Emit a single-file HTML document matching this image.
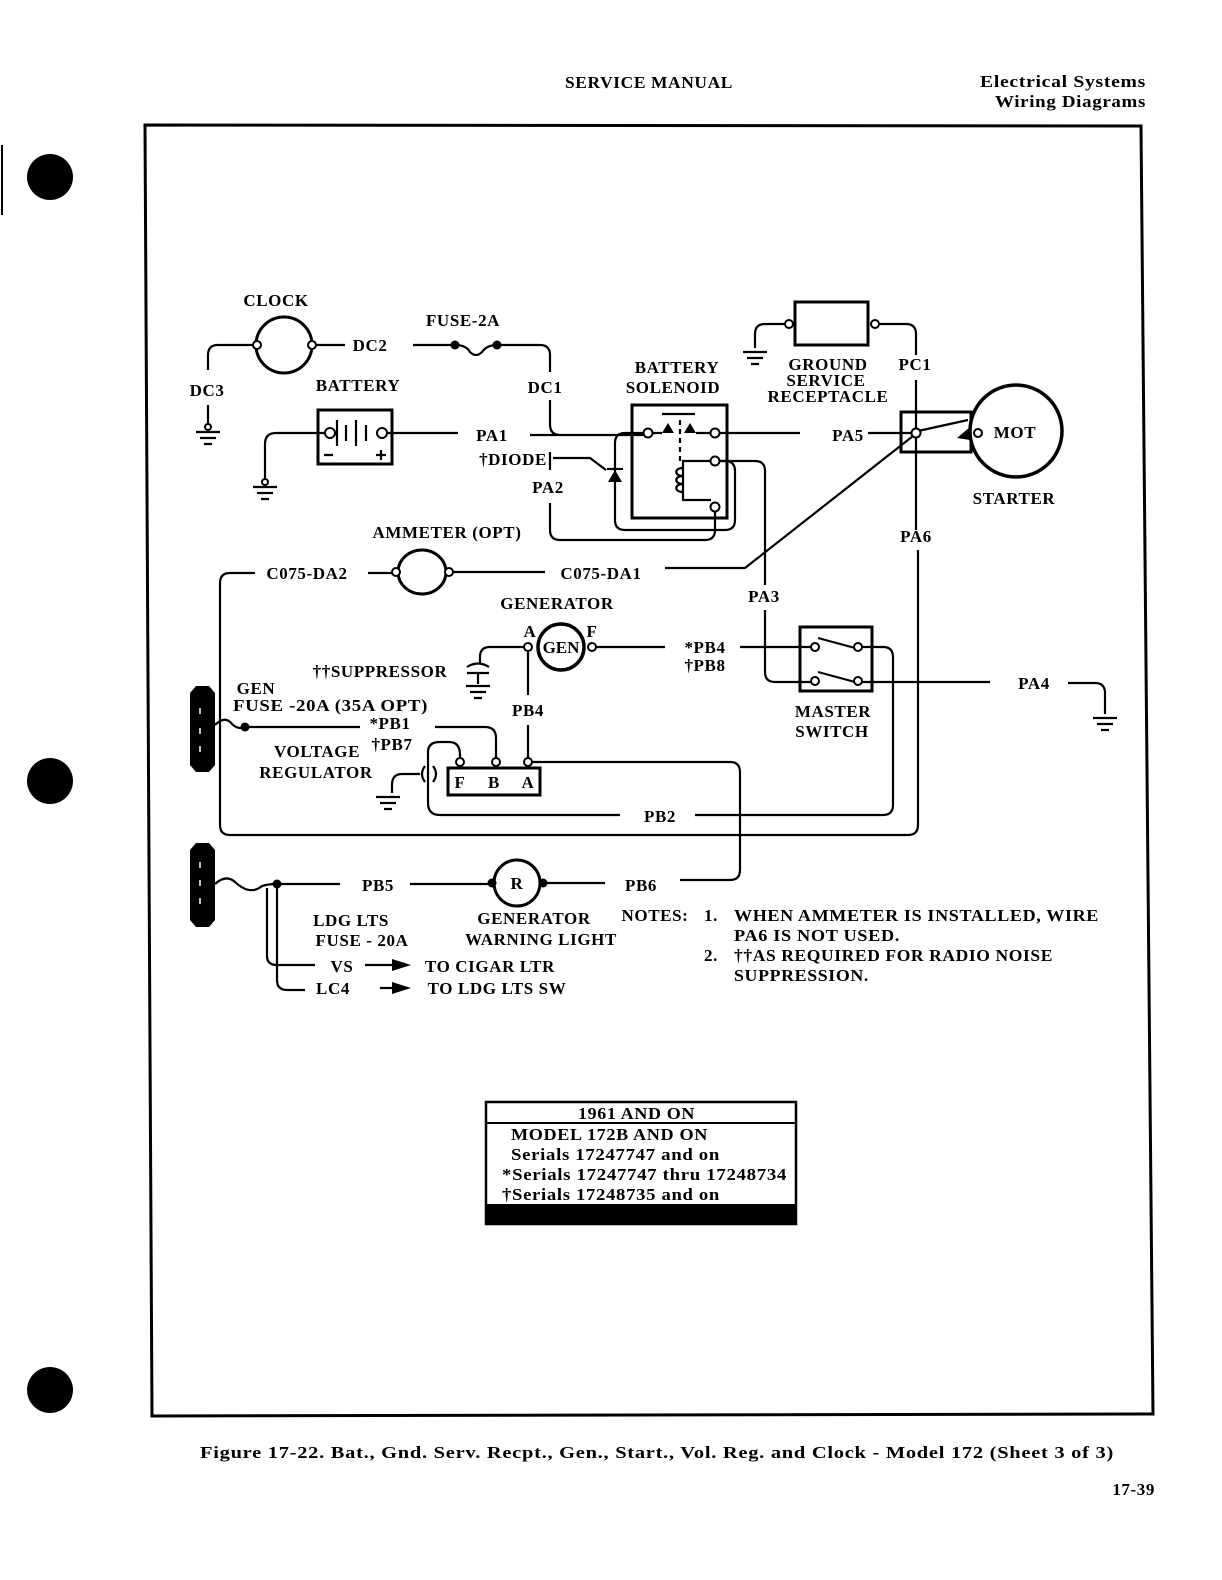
<!DOCTYPE html>
<html><head><meta charset="utf-8"><style>
html,body{margin:0;padding:0;background:#fff}
svg{display:block}
text{font-family:"Liberation Serif",serif;font-weight:bold;font-size:17px;fill:#000;letter-spacing:0.6px}
.w{fill:none;stroke:#000;stroke-width:2.2}
.t{fill:#fff;stroke:#000;stroke-width:2}
</style></head><body>
<svg width="1222" height="1580" viewBox="0 0 1222 1580" xmlns="http://www.w3.org/2000/svg">
<defs>
<g id="gnd"><path class="w" d="M-12,0H12M-8,6H8M-4,12H4"/></g>
</defs>
<!-- header -->
<text x="565" y="88" textLength="168" lengthAdjust="spacingAndGlyphs">SERVICE MANUAL</text>
<text x="980" y="87" textLength="166" lengthAdjust="spacingAndGlyphs">Electrical Systems</text>
<text x="995" y="107" textLength="151" lengthAdjust="spacingAndGlyphs">Wiring Diagrams</text>
<!-- margin dots -->
<circle cx="50" cy="177" r="23"/><circle cx="50" cy="781" r="23"/><circle cx="50" cy="1390" r="23"/>
<line x1="2" y1="145" x2="2" y2="215" stroke="#000" stroke-width="2"/>
<!-- frame -->
<polygon points="145,125 1141,126 1153,1414 152,1416" fill="none" stroke="#000" stroke-width="3"/>

<!-- clock -->
<text x="276" y="306" text-anchor="middle">CLOCK</text>
<ellipse cx="284" cy="345" rx="28" ry="28" fill="none" stroke="#000" stroke-width="3"/>
<path class="w" d="M253,345H218Q208,345 208,355V370M316,345H345"/>
<circle class="t" cx="257" cy="345" r="4"/><circle class="t" cx="312" cy="345" r="4"/>
<text x="207" y="396" text-anchor="middle">DC3</text>
<path class="w" d="M208,405V428"/><circle class="t" cx="208" cy="427" r="3"/><use href="#gnd" x="208" y="432"/>
<text x="370" y="351" text-anchor="middle">DC2</text>
<path class="w" d="M413,345H455Q466,345 470,352Q476,358 482,352Q487,345 497,345H540Q550,345 550,355V372"/>
<circle cx="455" cy="345" r="4.5"/><circle cx="497" cy="345" r="4.5"/>
<text x="463" y="326" text-anchor="middle">FUSE-2A</text>
<text x="545" y="393" text-anchor="middle">DC1</text>

<!-- battery -->
<text x="358" y="391" text-anchor="middle">BATTERY</text>
<rect x="318" y="410" width="74" height="54" fill="none" stroke="#000" stroke-width="3"/>
<path class="w" d="M337,420V446M346,425V441M356,420V446M366,425V441"/>
<circle class="t" cx="330" cy="433" r="5"/><circle class="t" cx="382" cy="433" r="5"/>
<path class="w" d="M324,455H333M376,455H386M381,450V460"/>
<path class="w" d="M325,433H276Q265,433 265,444V482"/><circle class="t" cx="265" cy="482" r="3"/><use href="#gnd" x="265" y="487"/>
<path class="w" d="M387,433H458"/>
<text x="492" y="441" text-anchor="middle">PA1</text>
<path class="w" d="M530,435H643M550,400V424Q550,435 560,435"/>
<text x="513" y="465" text-anchor="middle">†DIODE</text>
<path class="w" d="M553,458H590L606,470"/>
<text x="548" y="493" text-anchor="middle">PA2</text>
<path class="w" d="M550,452V470M550,503V530Q550,540 560,540H705Q715,540 715,530V512"/>

<!-- solenoid -->
<text x="677" y="373" text-anchor="middle">BATTERY</text>
<text x="673" y="393" text-anchor="middle">SOLENOID</text>
<rect x="632" y="405" width="95" height="113" fill="none" stroke="#000" stroke-width="3"/>
<path class="w" d="M662,414H695" stroke-width="3"/>
<path class="w" d="M680,420V462" stroke-dasharray="5,4"/>
<path d="M662,433L668,423L674,433Z M684,433L690,423L696,433Z"/>
<path class="w" d="M653,433H662M696,433H710"/>
<circle class="t" cx="648" cy="433" r="4.5"/><circle class="t" cx="715" cy="433" r="4.5"/>
<circle class="t" cx="715" cy="461" r="4.5"/><circle class="t" cx="715" cy="507" r="4.5"/>
<path class="w" d="M711,461H683V500H711"/>
<path class="w" d="M683,468c-9,0 -9,8 0,8c-9,0 -9,8 0,8c-9,0 -9,8 0,8" stroke-width="3"/>
<path class="w" d="M643,433H625Q615,433 615,443V520Q615,530 625,530H725Q735,530 735,520V471Q735,461 725,461H719"/>
<path d="M608,482H622L615,470Z"/><path class="w" d="M607,469H623"/>
<path class="w" d="M719,433H800"/>
<path class="w" d="M719,461H755Q765,461 765,471V585"/>
<text x="764" y="602" text-anchor="middle">PA3</text>
<path class="w" d="M765,610V672Q765,682 775,682H811"/>

<!-- ground service receptacle -->
<rect x="795" y="302" width="73" height="43" fill="none" stroke="#000" stroke-width="3"/>
<circle class="t" cx="789" cy="324" r="4"/><circle class="t" cx="875" cy="324" r="4"/>
<path class="w" d="M785,324H765Q755,324 755,334V348"/><use href="#gnd" x="755" y="352"/>
<path class="w" d="M879,324H906Q916,324 916,334V355"/>
<text x="828" y="370" text-anchor="middle">GROUND</text>
<text x="826" y="386" text-anchor="middle">SERVICE</text>
<text x="828" y="402" text-anchor="middle">RECEPTACLE</text>
<text x="915" y="370" text-anchor="middle">PC1</text>
<text x="848" y="441" text-anchor="middle">PA5</text>
<path class="w" d="M868,433H912M916,380V530"/>
<!-- starter -->
<rect x="901" y="412" width="70" height="40" fill="none" stroke="#000" stroke-width="3"/>
<circle cx="1016" cy="431" r="46" fill="#fff" stroke="#000" stroke-width="3.5"/>
<path class="w" d="M918,431L968,420"/>
<path d="M957,438L970,427L970,440Z"/>
<circle class="t" cx="916" cy="433" r="4.5"/><circle class="t" cx="978" cy="433" r="4"/>
<text x="1015" y="438" text-anchor="middle">MOT</text>
<text x="1014" y="504" text-anchor="middle">STARTER</text>
<text x="916" y="542" text-anchor="middle">PA6</text>
<path class="w" d="M913,436L745,568H665"/>
<path class="w" d="M918,550V825Q918,835 908,835H230Q220,835 220,825V583Q220,573 230,573H255"/>

<!-- ammeter -->
<text x="447" y="538" text-anchor="middle">AMMETER (OPT)</text>
<text x="307" y="579" text-anchor="middle">C075-DA2</text>
<text x="601" y="579" text-anchor="middle">C075-DA1</text>
<path class="w" d="M368,573H392M453,572H545"/>
<ellipse cx="422" cy="572" rx="24" ry="22" fill="none" stroke="#000" stroke-width="3"/>
<circle class="t" cx="396" cy="572" r="4"/><circle class="t" cx="449" cy="572" r="4"/>

<!-- generator -->
<text x="557" y="609" text-anchor="middle">GENERATOR</text>
<circle cx="561" cy="647" r="23" fill="none" stroke="#000" stroke-width="3.5"/>
<text x="561" y="653" text-anchor="middle" style="letter-spacing:0">GEN</text>
<text x="530" y="637" text-anchor="middle" font-size="15">A</text>
<text x="592" y="637" text-anchor="middle" font-size="15">F</text>
<path class="w" d="M596,647H665M740,647H811M524,647H490Q480,647 480,657V664M528,651V695M528,725V758"/>
<circle class="t" cx="528" cy="647" r="4"/><circle class="t" cx="592" cy="647" r="4"/>
<path class="w" d="M467,667Q478,660 489,667M467,673H489M478,673V684"/><use href="#gnd" x="478" y="686"/>
<text x="380" y="677" text-anchor="middle">††SUPPRESSOR</text>
<text x="705" y="653" text-anchor="middle">*PB4</text>
<text x="705" y="671" text-anchor="middle">†PB8</text>
<text x="528" y="716" text-anchor="middle">PB4</text>

<!-- master switch -->
<rect x="800" y="627" width="72" height="64" fill="none" stroke="#000" stroke-width="3"/>
<path class="w" d="M818,638L855,648M818,672L855,682"/>
<circle class="t" cx="815" cy="647" r="4"/><circle class="t" cx="858" cy="647" r="4"/>
<circle class="t" cx="815" cy="681" r="4"/><circle class="t" cx="858" cy="681" r="4"/>
<text x="833" y="717" text-anchor="middle">MASTER</text>
<text x="832" y="737" text-anchor="middle">SWITCH</text>
<path class="w" d="M862,647H883Q893,647 893,657V805Q893,815 883,815H695"/>
<path class="w" d="M862,682H990M1068,683H1095Q1105,683 1105,693V714"/>
<use href="#gnd" x="1105" y="718"/>
<text x="1034" y="689" text-anchor="middle">PA4</text>
<text x="660" y="822" text-anchor="middle">PB2</text>

<!-- voltage regulator -->
<rect x="448" y="768" width="92" height="27" fill="none" stroke="#000" stroke-width="3"/>
<text x="460" y="788" text-anchor="middle">F</text>
<text x="494" y="788" text-anchor="middle">B</text>
<text x="528" y="788" text-anchor="middle">A</text>
<path class="w" d="M620,815H440Q428,815 428,803V752Q428,742 440,742H449Q460,742 460,755V760"/>
<path class="w" d="M435,727H485Q496,727 496,738V758"/>
<path class="w" d="M532,762H730Q740,762 740,772V870Q740,880 730,880H680"/>
<circle class="t" cx="460" cy="762" r="4"/><circle class="t" cx="496" cy="762" r="4"/><circle class="t" cx="528" cy="762" r="4"/>
<path class="w" d="M425,766Q419,774 425,782M433,766Q439,774 433,782"/>
<path class="w" d="M420,774H402Q392,774 392,785V793"/><use href="#gnd" x="388" y="797"/>
<text x="390" y="729" text-anchor="middle">*PB1</text>
<text x="392" y="750" text-anchor="middle">†PB7</text>
<text x="317" y="757" text-anchor="middle">VOLTAGE</text>
<text x="316" y="778" text-anchor="middle">REGULATOR</text>
<text x="256" y="694" text-anchor="middle">GEN</text>
<text x="233" y="711" textLength="195" lengthAdjust="spacingAndGlyphs">FUSE -20A (35A OPT)</text>

<!-- bus bars -->
<path d="M190,693L196,686L209,686L215,693V765L209,772L196,772L190,765Z"/>
<path d="M190,850L196,843L209,843L215,850V920L209,927L196,927L190,920Z"/>
<g stroke="#fff" stroke-width="1.5"><path d="M200,708V714M200,728V734M200,746V752M200,862V868M200,880V886M200,898V904"/></g>
<path class="w" d="M215,725Q225,715 232,724Q238,730 245,727H360"/><circle cx="245" cy="727" r="4.5"/>

<!-- bottom -->
<path class="w" d="M215,884Q226,874 235,882Q250,896 262,886Q268,884 277,884H340M410,884H490M545,883H605"/>
<circle cx="277" cy="884" r="4.5"/>
<text x="378" y="891" text-anchor="middle">PB5</text>
<text x="641" y="891" text-anchor="middle">PB6</text>
<circle cx="517" cy="883" r="23" fill="none" stroke="#000" stroke-width="3"/>
<text x="517" y="889" text-anchor="middle">R</text>
<circle cx="492" cy="883" r="4.5"/><circle cx="543" cy="883" r="4.5"/>
<path class="w" d="M277,888V980Q277,990 287,990H305M267,888V956Q267,965 277,965H315"/>
<text x="351" y="926" text-anchor="middle">LDG LTS</text>
<text x="362" y="946" text-anchor="middle">FUSE - 20A</text>
<text x="342" y="972" text-anchor="middle">VS</text>
<text x="333" y="994" text-anchor="middle">LC4</text>
<path class="w" d="M365,965H395M380,988H395"/><path d="M392,959L411,965L392,971Z M392,982L411,988L392,994Z"/>
<text x="490" y="972" text-anchor="middle">TO CIGAR LTR</text>
<text x="497" y="994" text-anchor="middle">TO LDG LTS SW</text>
<text x="534" y="924" text-anchor="middle">GENERATOR</text>
<text x="541" y="945" text-anchor="middle">WARNING LIGHT</text>
<text x="655" y="921" text-anchor="middle">NOTES:</text>
<text x="711" y="921" text-anchor="middle">1.</text>
<text x="734" y="921" textLength="365" lengthAdjust="spacingAndGlyphs">WHEN AMMETER IS INSTALLED, WIRE</text>
<text x="734" y="941" textLength="166" lengthAdjust="spacingAndGlyphs">PA6 IS NOT USED.</text>
<text x="711" y="961" text-anchor="middle">2.</text>
<text x="734" y="961" textLength="319" lengthAdjust="spacingAndGlyphs">††AS REQUIRED FOR RADIO NOISE</text>
<text x="734" y="981" textLength="135" lengthAdjust="spacingAndGlyphs">SUPPRESSION.</text>

<!-- effectivity box -->
<rect x="486" y="1102" width="310" height="122" fill="none" stroke="#000" stroke-width="2.5"/>
<line x1="486" y1="1123" x2="796" y2="1123" stroke="#000" stroke-width="2"/>
<rect x="486" y="1204" width="311" height="20"/>
<text x="578" y="1119" textLength="117" lengthAdjust="spacingAndGlyphs">1961 AND ON</text>
<text x="511" y="1140" textLength="197" lengthAdjust="spacingAndGlyphs">MODEL 172B AND ON</text>
<text x="511" y="1160" textLength="209" lengthAdjust="spacingAndGlyphs">Serials 17247747 and on</text>
<text x="502" y="1180" textLength="285" lengthAdjust="spacingAndGlyphs">*Serials 17247747 thru 17248734</text>
<text x="502" y="1200" textLength="218" lengthAdjust="spacingAndGlyphs">†Serials 17248735 and on</text>

<!-- caption -->
<text x="200" y="1458" font-size="16" textLength="914" lengthAdjust="spacingAndGlyphs">Figure 17-22.  Bat., Gnd. Serv. Recpt., Gen., Start., Vol. Reg. and Clock - Model 172 (Sheet 3 of 3)</text>
<text x="1155" y="1495" text-anchor="end" font-size="16">17-39</text>
</svg>
</body></html>
